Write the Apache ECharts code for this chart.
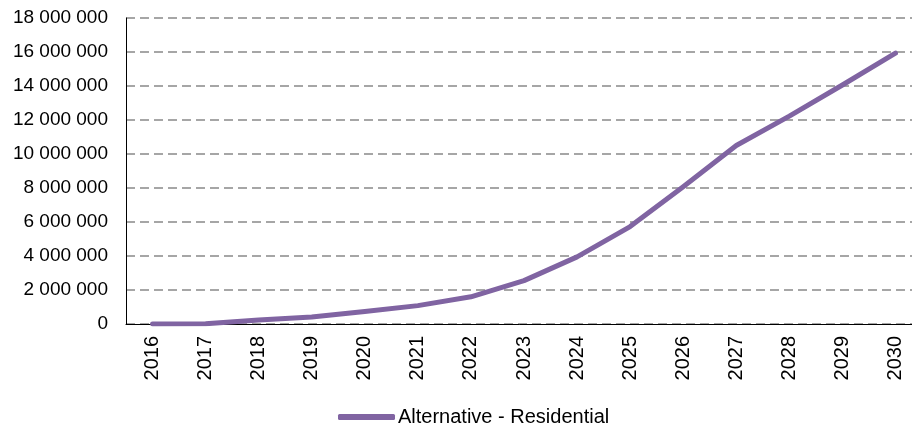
<!DOCTYPE html>
<html><head><meta charset="utf-8">
<script src="https://cdn.jsdelivr.net/npm/echarts@6/dist/echarts.min.js"></script>
<style>html,body{margin:0;padding:0;background:#fff}#c{width:912px;height:428px}</style>
</head><body><div id="c"></div>
<script>
const categories = ['2016','2017','2018','2019','2020','2021','2022','2023','2024','2025','2026','2027','2028','2029','2030'];
const seriesName = 'Alternative - Residential';
const values = [0, 20000, 230000, 410000, 730000, 1080000, 1600000, 2550000, 3950000, 5730000, 8070000, 10500000, 12230000, 14060000, 15930000];
const yTicks = { min: 0, max: 18000000, interval: 2000000 };

const fmt = v => String(Math.round(v)).replace(/\B(?=(\d{3})+(?!\d))/g, ' ');
const chart = echarts.init(document.getElementById('c'), null, {renderer:'canvas'});
chart.setOption({
  animation: false,
  textStyle: { fontFamily: 'Liberation Sans, Arial, sans-serif' },
  grid: { left: 126, width: 796, top: 18, height: 306, containLabel: false, outerBoundsMode: 'none' },
  legend: {
    data: [seriesName], top: 402, left: 333,
    itemWidth: 57, itemHeight: 6, itemGap: 3,
    icon: 'roundRect',
    textStyle: { fontSize: 20, color: '#000', fontFamily: 'Liberation Sans, Arial, sans-serif', padding: [0,0,0,-2] }
  },
  xAxis: {
    type: 'category', data: categories, boundaryGap: true,
    axisLine: { lineStyle: { color: '#000', width: 1 } },
    axisTick: { show: false },
    axisLabel: { rotate: 90, fontSize: 20, color: '#000', margin: 12, interval: 0 }
  },
  yAxis: {
    type: 'value', min: yTicks.min, max: yTicks.max, interval: yTicks.interval,
    axisLine: { show: true, lineStyle: { color: '#000', width: 1 } },
    axisTick: { show: false },
    axisLabel: { fontSize: 19, color: '#000', margin: 18, formatter: fmt },
    splitLine: { lineStyle: { color: '#A6A6A6', width: 2, type: [9,5] } }
  },
  series: [{
    name: seriesName, type: 'line', data: values,
    symbol: 'none', smooth: false,
    lineStyle: { color: '#8064A2', width: 5, cap: 'round', join: 'round' },
    itemStyle: { color: '#8064A2' }
  }]
});
</script></body></html>
